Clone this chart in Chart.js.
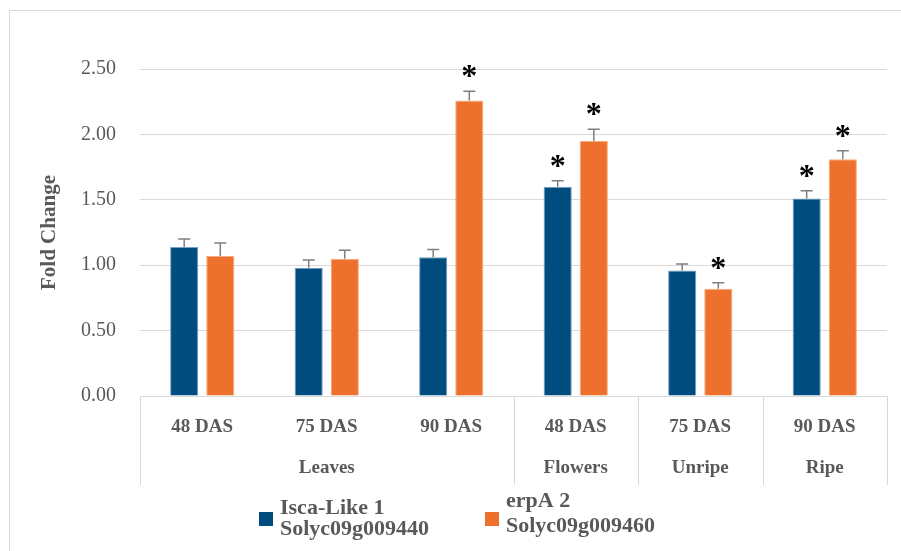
<!DOCTYPE html>
<html>
<head>
<meta charset="utf-8">
<script src="https://cdn.jsdelivr.net/npm/chart.js@4/dist/chart.umd.min.js"></script>
<style>
  html, body { margin: 0; padding: 0; background: #fff; }
  #wrap { width: 901px; height: 551px; }
</style>
</head>
<body>
<div id="wrap"><canvas id="fold_chart" width="901" height="551"></canvas></div>
<script>
const categories = ["48 DAS", "75 DAS", "90 DAS", "48 DAS", "75 DAS", "90 DAS"];
const groups = ["Leaves", "Flowers", "Unripe", "Ripe"];
const groupSpans = [3, 1, 1, 1];
const yTicks = [0, 0.5, 1, 1.5, 2, 2.5];

const iscaLabel = ["Isca-Like 1", "Solyc09g009440"];
const iscaValues = [1.14, 0.98, 1.06, 1.60, 0.96, 1.51];
const iscaErrors = [0.06, 0.06, 0.06, 0.045, 0.05, 0.06];
const iscaSig = [false, false, false, true, false, true];

const erpaLabel = ["erpA 2", "Solyc09g009460"];
const erpaValues = [1.07, 1.05, 2.26, 1.95, 0.82, 1.81];
const erpaErrors = [0.10, 0.065, 0.07, 0.09, 0.045, 0.065];
const erpaSig = [false, false, true, true, true, true];

const BLUE = "rgb(0, 76, 127)";
const ORANGE = "rgb(237, 113, 45)";
const GRID = "#d9d9d9";
const TEXT = "#595959";
const SERIF = "'Liberation Serif', 'Times New Roman', serif";

// outer frame
const framePlugin = {
    id: "frame",
    beforeDraw(chart) {
        let c = chart.ctx;
        c.save();
        c.strokeStyle = GRID;
        c.lineWidth = 1;
        c.strokeRect(9.5, 10.5, 1000, 1000);
        c.restore();
    }
};

// error bars + significance stars
const errorPlugin = {
    id: "errors",
    afterDatasetsDraw(chart) {
        let c = chart.ctx;
        let y = chart.scales.y;
        c.save();
        chart.data.datasets.forEach((ds, di) => {
            let meta = chart.getDatasetMeta(di);
            meta.data.forEach((bar, i) => {
                let top = y.getPixelForValue(ds.data[i] + ds.errors[i]);
                c.strokeStyle = "#7f7f7f";
                c.lineWidth = 1.5;
                c.beginPath();
                c.moveTo(bar.x, bar.y);
                c.lineTo(bar.x, top);
                c.moveTo(bar.x - 6, top);
                c.lineTo(bar.x + 6, top);
                c.stroke();
                if (ds.sig[i]) {
                    c.font = "bold 32px " + SERIF;
                    c.fillStyle = "#000";
                    c.textAlign = "center";
                    c.textBaseline = "alphabetic";
                    let m = c.measureText("*");
                    let cy = top - 20;
                    c.fillText("*", bar.x, cy + (m.actualBoundingBoxAscent - m.actualBoundingBoxDescent) / 2);
                }
            });
        });
        c.restore();
    }
};

// second level of the category axis, its box lines, and the legend
const axisPlugin = {
    id: "axisGroups",
    afterDraw(chart) {
        let c = chart.ctx;
        let x = chart.scales.x;
        let area = chart.chartArea;
        let half = (x.getPixelForValue(1) - x.getPixelForValue(0)) / 2;
        c.save();
        c.strokeStyle = GRID;
        c.lineWidth = 1;
        c.font = "bold 19px " + SERIF;
        c.fillStyle = TEXT;
        c.textAlign = "center";
        c.textBaseline = "middle";
        let start = 0;
        let edges = [x.getPixelForValue(0) - half];
        groups.forEach((g, gi) => {
            let end = start + groupSpans[gi] - 1;
            let left = x.getPixelForValue(start) - half;
            let right = x.getPixelForValue(end) + half;
            edges.push(right);
            c.fillText(g, (left + right) / 2, 468);
            start = end + 1;
        });
        edges.forEach(e => {
            let px = Math.round(e) + 0.5;
            c.beginPath();
            c.moveTo(px, area.bottom);
            c.lineTo(px, 485);
            c.stroke();
        });

        // legend
        let items = [
            { color: BLUE, text: iscaLabel, x: 259, lines: [514, 535] },
            { color: ORANGE, text: erpaLabel, x: 485, lines: [507, 532] }
        ];
        c.font = "bold 22px " + SERIF;
        c.textAlign = "left";
        c.textBaseline = "alphabetic";
        items.forEach(it => {
            c.fillStyle = it.color;
            c.fillRect(it.x, 512, 14, 14);
            c.fillStyle = TEXT;
            it.text.forEach((t, k) => c.fillText(t, it.x + 21, it.lines[k]));
        });
        c.restore();
    }
};

let can = document.getElementById("fold_chart");
let ctx = can.getContext("2d");
let chart = new Chart(ctx, {
    type: "bar",
    data: {
        labels: categories,
        datasets: [{
            label: iscaLabel.join(" "),
            data: iscaValues,
            errors: iscaErrors,
            sig: iscaSig,
            backgroundColor: BLUE,
            borderColor: "rgb(120, 160, 195)",
            borderWidth: 1
        },
        {
            label: erpaLabel.join(" "),
            data: erpaValues,
            errors: erpaErrors,
            sig: erpaSig,
            backgroundColor: ORANGE,
            borderColor: "rgb(247, 170, 125)",
            borderWidth: 1
        }]
    },
    options: {
        responsive: false,
        animation: false,
        categoryPercentage: 0.58,
        barPercentage: 0.78,
        layout: { padding: { left: 0, right: 14, top: 69, bottom: 0 } },
        plugins: {
            legend: { display: false },
            tooltip: { enabled: false }
        },
        scales: {
            x: {
                grid: { display: false, drawTicks: false },
                border: { display: true, color: GRID },
                ticks: {
                    autoSkip: false,
                    maxRotation: 0,
                    padding: 20,
                    color: TEXT,
                    font: { family: SERIF, size: 19, weight: "bold" }
                },
                afterFit(s) { s.height = 155; }
            },
            y: {
                min: 0,
                max: 2.5,
                afterBuildTicks(s) { s.ticks = yTicks.map(v => ({ value: v })); },
                grid: { color: GRID, drawTicks: false },
                border: { display: false },
                ticks: {
                    padding: 24,
                    color: TEXT,
                    font: { family: SERIF, size: 20 },
                    callback: v => v.toFixed(2)
                },
                title: {
                    display: true,
                    text: "Fold Change",
                    color: TEXT,
                    font: { family: SERIF, size: 21, weight: "bold" },
                    padding: { top: 37 }
                },
                afterFit(s) { s.width = 140; }
            }
        }
    },
    plugins: [framePlugin, errorPlugin, axisPlugin]
});
</script>
</body>
</html>
